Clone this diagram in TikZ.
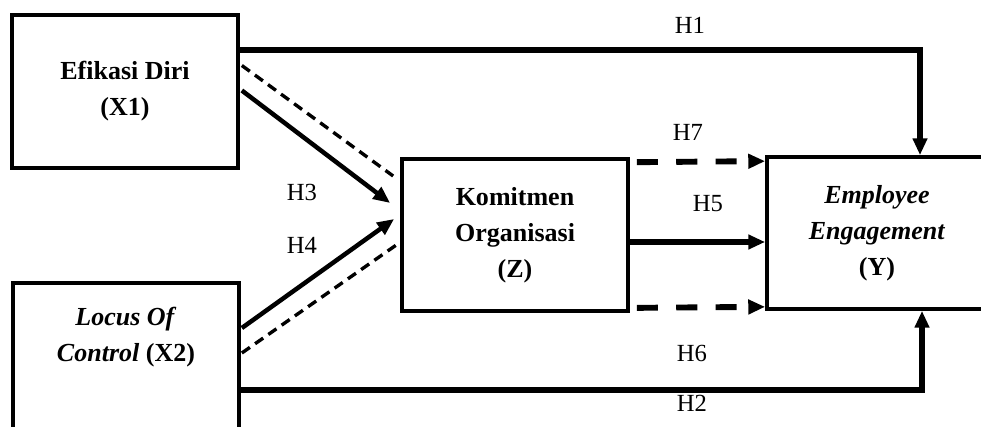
\documentclass[tikz,border=0pt]{standalone}
\usepackage{fontspec}
\setmainfont{Liberation Serif}
\usepackage{tikz}
\usetikzlibrary{arrows.meta,calc}

\begin{document}
\begin{tikzpicture}[x=0.025cm,y=-0.025cm,
    varbox/.style={draw,line width=2.6pt,align=center,font=\fontsize{18.5}{25.5}\selectfont\bfseries},
    vartext/.style={align=center,font=\fontsize{18.5}{25.5}\selectfont\bfseries},
    hlabel/.style={font=\fontsize{17.5}{20}\selectfont},
    mainarrow/.style={line width=4pt,-{Triangle[length=12pt,width=10pt]}},
    diagarrow/.style={line width=3.2pt,-{Triangle[length=12pt,width=10pt]}},
    diagdash/.style={line width=2.4pt,dash pattern=on 7pt off 4.5pt},
    dasharrow/.style={line width=4.2pt,dash pattern=on 15pt off 13pt,-{Triangle[length=12pt,width=10pt]}}]
    \useasboundingbox (0,0) rectangle (981,427);
    \node[varbox,minimum width=5.65cm,minimum height=3.825cm] (x1) at (125,91.5) {Efikasi Diri\\(X1)};
    \node[varbox,minimum width=5.65cm,minimum height=4.75cm,anchor=north] (x2) at (126,281) {};
    \node[vartext] (x2text) at (126,337) {\textit{Locus Of}\\\textit{Control} (X2)};
    \node[varbox,minimum width=5.65cm,minimum height=3.8cm] (z) at (515,235) {Komitmen\\Organisasi\\(Z)};
    \node[varbox,minimum width=5.5cm,minimum height=3.8cm] (y) at (877,233) {\textit{Employee}\\\textit{Engagement}\\(Y)};
    % labels
    \node[hlabel] (h1) at (690,25) {H1};
    \node[hlabel] (h7) at (688,132) {H7};
    \node[hlabel] (h3) at (302,192) {H3};
    \node[hlabel] (h5) at (708,204) {H5};
    \node[hlabel] (h4) at (302,245) {H4};
    \node[hlabel] (h6) at (692,353) {H6};
    \node[hlabel] (h2) at (692,403) {H2};
    % direct paths
    \coordinate (h1bend) at (920,50);
    \coordinate (h2bend) at (922,390);
    \draw[mainarrow] (x1.east |- h1bend) -- (h1bend) -- (h1bend |- y.north);
    \draw[mainarrow] (x2.north east |- h2bend) -- (h2bend) -- (h2bend |- y.south);
    \draw[mainarrow] ($(z.east)+(0,7)$) -- ($(y.west)+(0,9)$);
    \draw[dasharrow] ($(z.north east)+(7,5)$) -- ($(y.north west)+(0,6)$);
    \draw[dasharrow] ($(z.south east)+(7,-5)$) -- ($(y.south west)+(0,-4)$);
    % to Z
    \draw[diagdash] ($(x1.east)+(2,-26)$) -- ($(z.west)+(-7,-59)$);
    \draw[diagarrow] ($(x1.east)+(2,-1)$) -- ($(z.west)+(-10,-32)$);
    \draw[diagarrow] ($(x2.north east)+(1,47)$) -- ($(z.west)+(-6,-16)$);
    \draw[diagdash] ($(x2.north east)+(1,72)$) -- ($(z.west)+(-1,8)$);
\end{tikzpicture}
\end{document}
